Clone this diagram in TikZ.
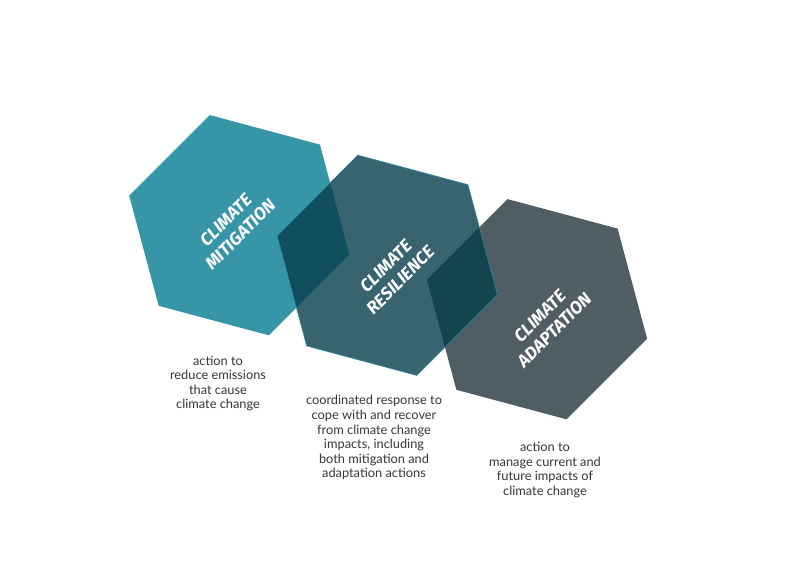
\documentclass[tikz,border=0pt]{standalone}
\usepackage{fontspec}
\setmainfont{Lato}
\newfontfamily\hexfont{Fira Sans}
\definecolor{mitig}{RGB}{55,149,168}
\definecolor{resil}{RGB}{6,62,76}
\definecolor{adapt}{RGB}{79,93,100}
\definecolor{resedge}{RGB}{45,135,155}
\definecolor{desc}{RGB}{55,55,55}
\begin{document}
\begin{tikzpicture}[x=1pt,y=1pt,
  hexlabel/.style={text=white, font=\hexfont\bfseries\itshape\fontsize{17.5}{20.5}\selectfont, align=center, rotate=45, inner sep=0pt},
  desclabel/.style={text=desc, font=\fontsize{12.8}{14.6}\selectfont, align=center, inner sep=0pt}]
\useasboundingbox[fill=white] (0,0) rectangle (800,565);
\coordinate (cm) at (239.3,339.8);
\coordinate (cr) at (387.3,299.7);
\coordinate (ca) at (537,255.8);
% mitigation
\fill[mitig, shift={(cm)}] (105:114pt) -- (45:114pt) -- (-15:114pt) -- (-75:114pt) -- (-135:114pt) -- (165:114pt) -- cycle;
% adaptation
\fill[adapt, shift={(ca)}] (105:114pt) -- (45:114pt) -- (-15:114pt) -- (-75:114pt) -- (-135:114pt) -- (165:114pt) -- cycle;
% resilience (translucent, on top)
\filldraw[fill=resil, fill opacity=0.8, draw=resedge, line width=0.6pt, shift={(cr)}] (105:114pt) -- (45:114pt) -- (-15:114pt) -- (-75:114pt) -- (-135:114pt) -- (165:114pt) -- cycle;
\node[hexlabel] (lm) at (233,338) {CLIMATE\\MITIGATION};
\node[hexlabel] (lr) at (393,292) {CLIMATE\\RESILIENCE};
\node[hexlabel] (la) at (547,242) {CLIMATE\\ADAPTATION};
\node[desclabel] (dm) at (218,181.5) {action to\\reduce emissions\\that cause\\climate change};
\node[desclabel] (dr) at (374,127.2) {coordinated response to\\cope with and recover\\from climate change\\impacts, including\\both mitigation and\\adaptation actions};
\node[desclabel] (da) at (545,95) {action to\\manage current and\\future impacts of\\climate change};
\end{tikzpicture}
\end{document}
